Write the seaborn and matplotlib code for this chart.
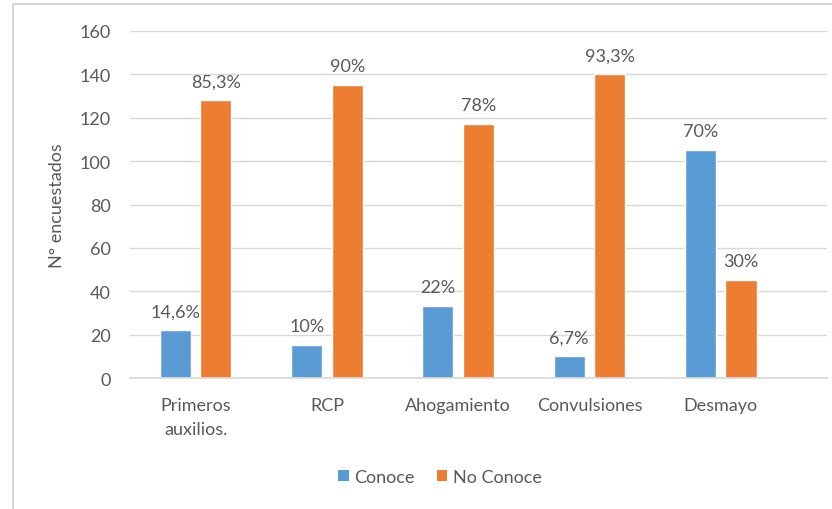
import matplotlib
matplotlib.use("Agg")
import matplotlib.pyplot as plt
import seaborn as sns
import pandas as pd
from matplotlib.patches import Rectangle, Patch

categories = ["Primeros\nauxilios.", "RCP", "Ahogamiento", "Convulsiones", "Desmayo"]
conoce = [22, 15, 33, 10, 105]
no_conoce = [128, 135, 117, 140, 45]
conoce_pct = ["14,6%", "10%", "22%", "6,7%", "70%"]
no_conoce_pct = ["85,3%", "90%", "78%", "93,3%", "30%"]
series = ["Conoce", "No Conoce"]
colors = ["#5B9BD5", "#ED7D31"]

df = pd.DataFrame({
    "categoria": categories * 2,
    "valor": conoce + no_conoce,
    "grupo": [series[0]] * len(categories) + [series[1]] * len(categories),
})

sns.set_theme(style="white")
plt.rcParams["font.family"] = ["Lato", "DejaVu Sans"]
text_color = "#595959"
fs = 13

fig = plt.figure(figsize=(8.32, 5.10), dpi=100)
fig.patch.set_facecolor("white")
ax = fig.add_axes([130 / 832, 1 - 379 / 510, (827 - 130) / 832, (379 - 32) / 510])

sns.barplot(data=df, x="categoria", y="valor", hue="grupo", palette=colors,
            width=0.618, gap=0.233, ax=ax, legend=False, saturation=1)

ax.set_ylim(0, 160)
ax.set_xlim(-0.5, 4.81)
ax.set_yticks(range(0, 161, 20))
ax.yaxis.grid(True, color="#D9D9D9", linewidth=1)
ax.set_axisbelow(True)
for s in ["top", "right", "left"]:
    ax.spines[s].set_visible(False)
ax.spines["bottom"].set_color("#D9D9D9")
ax.tick_params(axis="y", length=0, pad=14, labelsize=fs, labelcolor=text_color)
ax.tick_params(axis="x", length=0, pad=14, labelsize=fs, labelcolor=text_color)
for t in ax.get_xticklabels():
    t.set_linespacing(1.55)
ax.set_xlabel("")
ax.set_ylabel("N° encuestados", fontsize=fs, color=text_color, labelpad=10)

# percentage labels above each bar
for container, labels in zip(ax.containers, [conoce_pct, no_conoce_pct]):
    for bar, lab in zip(container, labels):
        ax.annotate(lab, (bar.get_x() + bar.get_width() / 2, bar.get_height()),
                    xytext=(0, 8), textcoords="offset points",
                    ha="center", va="bottom", fontsize=fs, color=text_color)

handles = [Patch(facecolor=c, edgecolor="none") for c in colors]
fig.legend(handles, series, loc="center", bbox_to_anchor=(440 / 832, 1 - 478 / 510),
           ncol=2, frameon=False, fontsize=fs, handlelength=0.6, handleheight=0.6,
           columnspacing=1.2, handletextpad=0.3, labelcolor=text_color)

# chart frame
fig.patches.append(Rectangle((13 / 832, -0.01), 1.0, 1 - 5 / 510 + 0.01,
                             transform=fig.transFigure, fill=False,
                             edgecolor="#D0D0D0", linewidth=1.2))

fig.savefig("out.png", dpi=100)
